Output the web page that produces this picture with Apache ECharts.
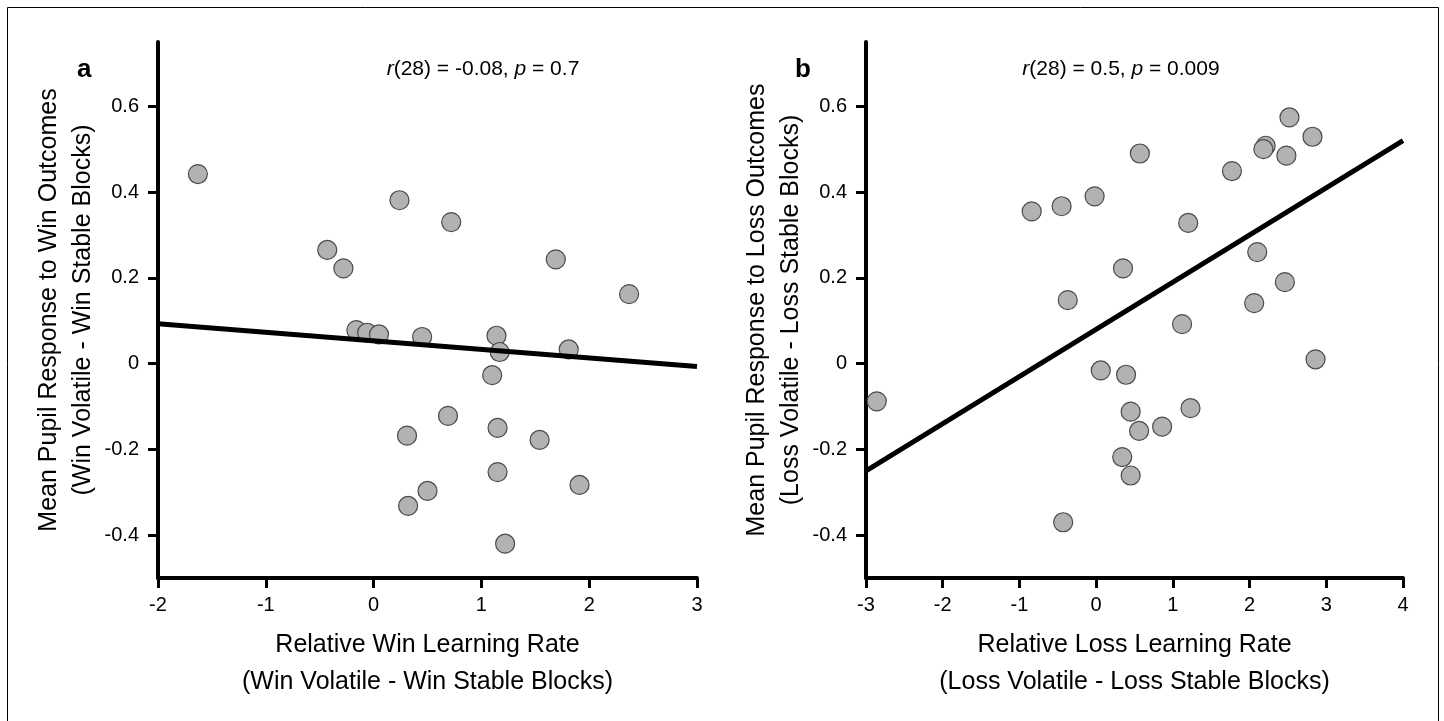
<!DOCTYPE html>
<html><head><meta charset="utf-8">
<script src="https://cdn.jsdelivr.net/npm/echarts@6/dist/echarts.min.js"></script>
<style>html,body{margin:0;padding:0;background:#fff}#c{width:1444px;height:721px}</style>
</head><body><div id="c"></div>
<script>
// Panel a: Relative Win Learning Rate vs Mean Pupil Response to Win Outcomes
const winX = [-1.63, 0.24, 0.72, -0.43, -0.28, 1.69, 2.37, -0.16, -0.06, 0.05, 0.45, 1.14, 1.17, 1.81, 1.10, 0.69, 0.31, 1.15, 1.54, 1.15, 0.50, 0.32, 1.91, 1.22];
const winY = [0.442, 0.381, 0.330, 0.265, 0.222, 0.243, 0.162, 0.078, 0.072, 0.068, 0.062, 0.065, 0.027, 0.033, -0.027, -0.122, -0.168, -0.150, -0.178, -0.253, -0.297, -0.332, -0.283, -0.420];
const winFitX = [-2, 3];
const winFitY = [0.093, -0.007];

// Panel b: Relative Loss Learning Rate vs Mean Pupil Response to Loss Outcomes
const lossX = [-2.86, -0.84, -0.45, -0.02, 0.57, -0.37, 0.35, 1.20, 1.77, 2.21, 2.18, 2.48, 2.52, 2.82, 2.10, 2.46, 2.06, 1.12, 2.86, 0.06, 0.39, 0.45, 0.56, 0.86, 1.23, 0.34, 0.45, -0.43];
const lossY = [-0.088, 0.355, 0.367, 0.390, 0.490, 0.148, 0.222, 0.328, 0.449, 0.508, 0.500, 0.485, 0.574, 0.529, 0.260, 0.190, 0.141, 0.092, 0.010, -0.016, -0.026, -0.112, -0.157, -0.147, -0.104, -0.218, -0.261, -0.370];
const lossFitX = [-3, 4];
const lossFitY = [-0.25, 0.52];

const yTicks = [-0.4, -0.2, 0, 0.2, 0.4, 0.6];

const labelsA = {panel: 'a', stat: ['r', '(28) = -0.08, ', 'p', ' = 0.7'],
  xName: 'Relative Win Learning Rate\n(Win Volatile - Win Stable Blocks)',
  yName: 'Mean Pupil Response to Win Outcomes\n(Win Volatile - Win Stable Blocks)'};
const labelsB = {panel: 'b', stat: ['r', '(28) = 0.5, ', 'p', ' = 0.009'],
  xName: 'Relative Loss Learning Rate\n(Loss Volatile - Loss Stable Blocks)',
  yName: 'Mean Pupil Response to Loss Outcomes\n(Loss Volatile - Loss Stable Blocks)'};

const FONT = 'Liberation Sans';
const zip = (a, b) => a.map((v, i) => [v, b[i]]);
const isYTick = v => yTicks.some(t => Math.abs(t - v) < 1e-6);

function xAxis(idx, min, max, name) {
  return {
    type: 'value', gridIndex: idx, min: min, max: max, interval: 1,
    name: name, nameLocation: 'middle', nameGap: 49,
    nameTextStyle: {fontFamily: FONT, fontSize: 25, color: '#000', lineHeight: 37, verticalAlign: 'top'},
    axisLine: {show: true, onZero: false, lineStyle: {color: '#000', width: 4}},
    axisTick: {show: true, length: 10, lineStyle: {color: '#000', width: 3}},
    axisLabel: {fontFamily: FONT, fontSize: 20, color: '#000', margin: 17},
    splitLine: {show: false}
  };
}
function yAxis(idx, name) {
  return {
    type: 'value', gridIndex: idx, min: -0.5, max: 0.75, interval: 0.1,
    name: name, nameLocation: 'middle', nameGap: 58, nameRotate: 90,
    nameTextStyle: {fontFamily: FONT, fontSize: 25, color: '#000', lineHeight: 34},
    axisLine: {show: true, onZero: false, lineStyle: {color: '#000', width: 4}},
    axisTick: {show: true, length: 10, lineStyle: {color: '#000', width: 3}, customValues: yTicks},
    axisLabel: {fontFamily: FONT, fontSize: 20, color: '#000', margin: 19, showMinLabel: true, showMaxLabel: false,
      formatter: v => (isYTick(v) ? (Math.abs(v) < 1e-9 ? '0' : v.toFixed(1)) : '')},
    splitLine: {show: false}
  };
}
function scatter(idx, xs, ys) {
  return {type: 'scatter', xAxisIndex: idx, yAxisIndex: idx, data: zip(xs, ys), symbol: 'circle', symbolSize: 19,
    itemStyle: {color: '#b2b2b2', borderColor: '#4a4a4a', borderWidth: 1.2, opacity: 1}, z: 2, silent: true};
}
function fit(idx, xs, ys) {
  return {type: 'line', xAxisIndex: idx, yAxisIndex: idx, data: zip(xs, ys), symbol: 'none',
    lineStyle: {color: '#000', width: 5}, z: 3, silent: true};
}
function statTitle(lab, cx) {
  return {text: '{i|' + lab.stat[0] + '}{n|' + lab.stat[1] + '}{i|' + lab.stat[2] + '}{n|' + lab.stat[3] + '}',
    left: cx, top: 54, textAlign: 'center',
    textStyle: {fontWeight: 'normal', rich: {
      i: {fontFamily: FONT, fontSize: 21, fontStyle: 'italic', fontWeight: 'normal', color: '#000'},
      n: {fontFamily: FONT, fontSize: 21, fontWeight: 'normal', color: '#000'}}}};
}
function panelTitle(lab, x) {
  return {text: lab.panel, left: x, top: 52, textStyle: {fontFamily: FONT, fontSize: 26, fontWeight: 'bold', color: '#000'}};
}

const chart = echarts.init(document.getElementById('c'), null, {renderer: 'canvas'});
chart.setOption({
  backgroundColor: '#fff',
  animation: false,
  title: [panelTitle(labelsA, 72), statTitle(labelsA, 478), panelTitle(labelsB, 790), statTitle(labelsB, 1116)],
  grid: [
    {left: 158, top: 42, width: 539, height: 536},
    {left: 866, top: 42, width: 537, height: 536}
  ],
  xAxis: [xAxis(0, -2, 3, labelsA.xName), xAxis(1, -3, 4, labelsB.xName)],
  yAxis: [yAxis(0, labelsA.yName), yAxis(1, labelsB.yName)],
  series: [scatter(0, winX, winY), fit(0, winFitX, winFitY), scatter(1, lossX, lossY), fit(1, lossFitX, lossFitY)],
  graphic: [{type: 'rect', shape: {x: 7.5, y: 7.5, width: 1431, height: 740},
    style: {fill: null, stroke: '#000', lineWidth: 1}, silent: true}]
});
</script></body></html>
